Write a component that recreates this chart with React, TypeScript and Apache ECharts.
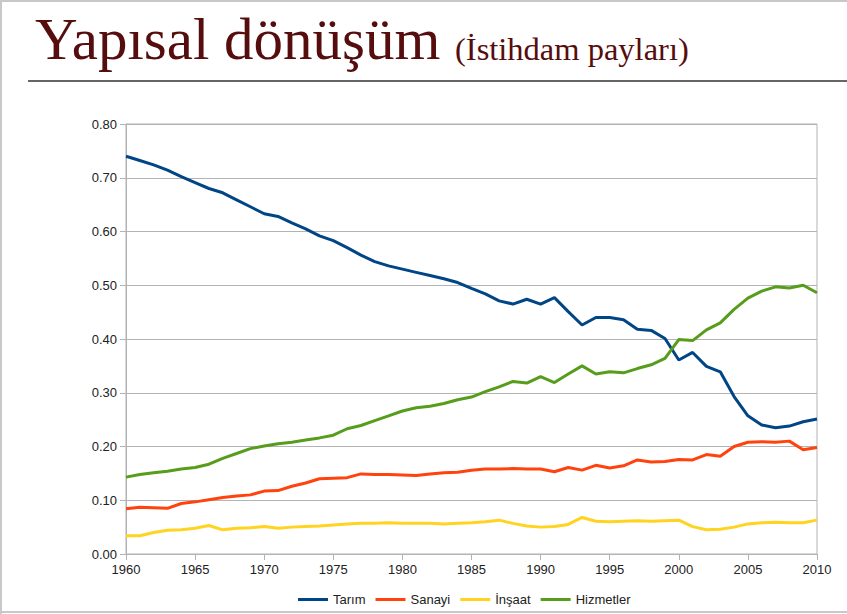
import React, { useEffect, useRef } from "react";
import * as echarts from "echarts";

const years: number[] = [];
for (let y = 1960; y <= 2010; y++) years.push(y);

const tarim = [
  0.740, 0.732, 0.724, 0.714, 0.702, 0.691, 0.680, 0.672, 0.659, 0.646,
  0.633, 0.628, 0.616, 0.605, 0.592, 0.583, 0.570, 0.556, 0.544, 0.536,
  0.530, 0.524, 0.518, 0.512, 0.505, 0.494, 0.484, 0.471, 0.465, 0.474,
  0.465, 0.477, 0.451, 0.426, 0.440, 0.440, 0.436, 0.418, 0.416, 0.401,
  0.361, 0.375, 0.349, 0.339, 0.293, 0.257, 0.240, 0.235, 0.238, 0.246,
  0.251,
];
const sanayi = [
  0.084, 0.087, 0.086, 0.085, 0.094, 0.097, 0.101, 0.105, 0.108, 0.110,
  0.117, 0.118, 0.126, 0.132, 0.140, 0.141, 0.142, 0.149, 0.148, 0.148,
  0.147, 0.146, 0.149, 0.151, 0.152, 0.156, 0.158, 0.158, 0.159, 0.158,
  0.158, 0.153, 0.161, 0.156, 0.165, 0.160, 0.164, 0.175, 0.171, 0.172,
  0.176, 0.175, 0.185, 0.182, 0.200, 0.208, 0.209, 0.208, 0.210, 0.194,
  0.198,
];
const insaat = [
  0.034, 0.034, 0.040, 0.044, 0.045, 0.048, 0.053, 0.045, 0.048, 0.049,
  0.051, 0.048, 0.050, 0.051, 0.052, 0.054, 0.056, 0.057, 0.057, 0.058,
  0.057, 0.057, 0.057, 0.056, 0.057, 0.058, 0.060, 0.063, 0.057, 0.052,
  0.050, 0.051, 0.055, 0.068, 0.061, 0.060, 0.061, 0.062, 0.061, 0.062,
  0.063, 0.051, 0.045, 0.046, 0.050, 0.056, 0.058, 0.059, 0.058, 0.058,
  0.063,
];
const hizmetler = [
  0.143, 0.148, 0.151, 0.154, 0.158, 0.161, 0.167, 0.178, 0.187, 0.196,
  0.201, 0.205, 0.208, 0.212, 0.216, 0.221, 0.233, 0.239, 0.248, 0.257,
  0.266, 0.272, 0.275, 0.280, 0.287, 0.292, 0.302, 0.311, 0.321, 0.318,
  0.330, 0.319, 0.335, 0.350, 0.335, 0.339, 0.337, 0.345, 0.352, 0.364,
  0.399, 0.397, 0.417, 0.430, 0.455, 0.476, 0.489, 0.497, 0.495, 0.500,
  0.486,
];

const seriesNames = ["Tarım", "Sanayi", "İnşaat", "Hizmetler"];
const seriesColors = ["#004586", "#ff420e", "#ffd320", "#579d1c"];
const seriesValues = [tarim, sanayi, insaat, hizmetler];

const titleMain = "Yapısal dönüşüm";
const titleSub = "(İstihdam payları)";

export default function App() {
  const ref = useRef<HTMLDivElement>(null);
  useEffect(() => {
    if (!ref.current) return;
    const chart = echarts.init(ref.current, undefined, { renderer: "svg" });
    const sans = "'Liberation Sans', Arial, sans-serif";
    const serif = "'Liberation Serif', 'Times New Roman', serif";
    chart.setOption({
      animation: false,
      backgroundColor: "#ffffff",
      grid: {
        left: 126,
        right: 30,
        top: 124,
        bottom: 60,
        show: true,
        borderColor: "#b3b3b3",
        borderWidth: 1,
        containLabel: false,
      },
      legend: {
        bottom: 3,
        left: 293,
        icon: "rect",
        itemWidth: 30,
        itemHeight: 3,
        itemGap: 10,
        textStyle: { fontFamily: sans, fontSize: 13, color: "#222" },
        data: seriesNames,
      },
      xAxis: {
        type: "value",
        min: 1960,
        max: 2010,
        interval: 5,
        axisLine: { show: true, lineStyle: { color: "#b3b3b3" } },
        axisTick: { show: true, length: 6, lineStyle: { color: "#b3b3b3" } },
        splitLine: { show: false },
        axisLabel: {
          fontFamily: sans,
          fontSize: 13,
          color: "#222",
          margin: 9,
          formatter: (v: number) => String(v),
        },
      },
      yAxis: {
        type: "value",
        min: 0,
        max: 0.8,
        interval: 0.1,
        axisLine: { show: true, lineStyle: { color: "#b3b3b3" } },
        axisTick: { show: true, length: 6, lineStyle: { color: "#b3b3b3" } },
        splitLine: { show: true, lineStyle: { color: "#b3b3b3", width: 1 } },
        axisLabel: {
          fontFamily: sans,
          fontSize: 13,
          color: "#222",
          margin: 9,
          formatter: (v: number) => v.toFixed(2),
        },
      },
      series: seriesNames.map((name, i) => ({
        name,
        type: "line",
        showSymbol: false,
        symbol: "none",
        color: seriesColors[i],
        lineStyle: { width: 3, color: seriesColors[i] },
        data: years.map((y, k) => [y, seriesValues[i][k]]),
      })),
      graphic: [
        {
          type: "text",
          left: 35,
          top: 9,
          style: {
            text: titleMain,
            fontFamily: serif,
            fontSize: 59,
            fill: "#560d0d",
          },
        },
        {
          type: "text",
          left: 455,
          top: 32,
          style: {
            text: titleSub,
            fontFamily: serif,
            fontSize: 32.5,
            fill: "#560d0d",
          },
        },
        {
          type: "line",
          shape: { x1: 28, y1: 81, x2: 847, y2: 81 },
          style: { stroke: "#333", lineWidth: 1.5 },
        },
        {
          type: "line",
          shape: { x1: 0, y1: 1, x2: 847, y2: 1 },
          style: { stroke: "#c8c8c8", lineWidth: 2 },
        },
        {
          type: "line",
          shape: { x1: 1, y1: 0, x2: 1, y2: 614 },
          style: { stroke: "#c8c8c8", lineWidth: 2 },
        },
        {
          type: "line",
          shape: { x1: 0, y1: 612, x2: 847, y2: 612 },
          style: { stroke: "#c8c8c8", lineWidth: 2 },
        },
      ],
    });
    return () => chart.dispose();
  }, []);
  return (
    <div
      ref={ref}
      style={{ position: "fixed", left: 0, top: 0, width: 847, height: 614 }}
    />
  );
}
